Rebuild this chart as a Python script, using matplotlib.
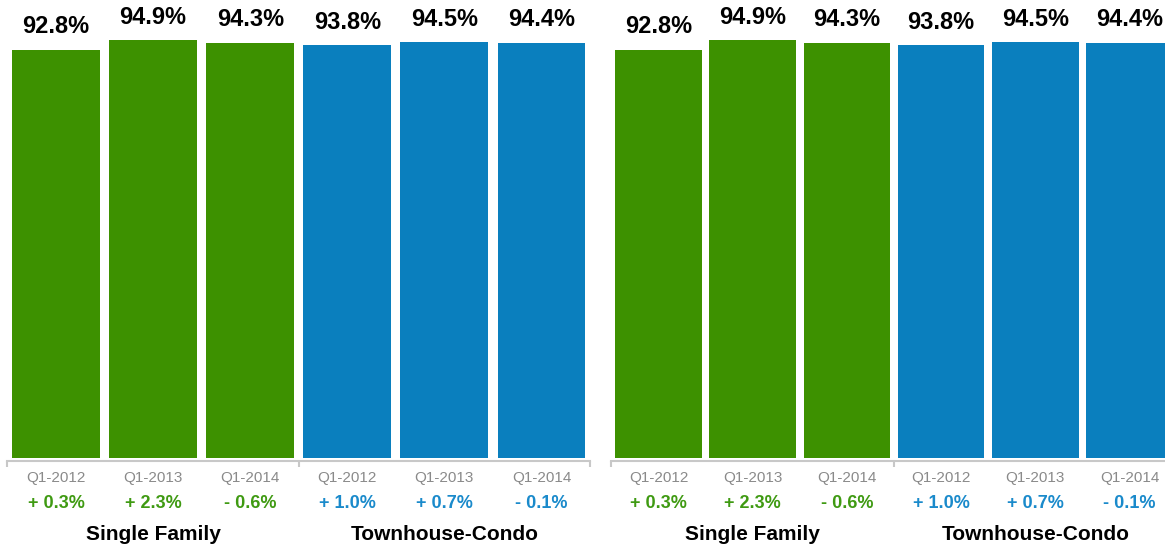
import matplotlib.pyplot as plt

plt.rcParams['font.family'] = ['Liberation Sans', 'DejaVu Sans']

# data
quarters = ["Q1-2012", "Q1-2013", "Q1-2014"]
groups = ["Single Family", "Townhouse-Condo"]
single_family = [92.8, 94.9, 94.3]
townhouse = [93.8, 94.5, 94.4]
sf_change = [0.3, 2.3, -0.6]
th_change = [1.0, 0.7, -0.1]

GREEN = '#3d9100'
BLUE = '#0a7fbe'
GREEN_TXT = '#3f9a12'
BLUE_TXT = '#1a8acb'
GRAY = '#c8c8c8'


def fmt_change(v):
    sign = "+" if v >= 0 else "-"
    return "%s %.1f%%" % (sign, abs(v))


def draw_panel(ax, bar_width):
    values = single_family + townhouse
    changes = sf_change + th_change
    colors = [GREEN] * 3 + [BLUE] * 3
    txt_colors = [GREEN_TXT] * 3 + [BLUE_TXT] * 3
    labels = quarters + quarters
    xs = list(range(len(values)))

    ax.bar(xs, values, width=bar_width, color=colors)
    ax.set_xlim(-0.5, 5.5)
    ax.set_ylim(0, 100)

    # value labels above the bars
    for x, v in zip(xs, values):
        ax.annotate("%.1f%%" % v, (x, v), xytext=(0, 12), textcoords='offset points',
                    ha='center', va='baseline', fontsize=17, fontweight='bold', color='black')

    # quarter, change and group labels under the axis
    tr = ax.get_xaxis_transform()
    for x, lab, ch, c in zip(xs, labels, changes, txt_colors):
        ax.text(x, -0.0545, lab, transform=tr, ha='center', va='baseline',
                fontsize=11, color='#8a8a8a')
        ax.text(x, -0.1136, fmt_change(ch), transform=tr, ha='center', va='baseline',
                fontsize=13, fontweight='bold', color=c)
    for i, g in enumerate(groups):
        ax.text(1 + 3 * i, -0.186, g, transform=tr, ha='center', va='baseline',
                fontsize=15, fontweight='bold', color='black')

    for s in ['top', 'right', 'left']:
        ax.spines[s].set_visible(False)
    ax.spines['bottom'].set_color(GRAY)
    ax.spines['bottom'].set_linewidth(1.5)
    ax.spines['bottom'].set_position(('outward', 2.2))
    ax.set_yticks([])
    ax.set_xticks([-0.5, 2.5, 5.5])
    ax.set_xticklabels([])
    ax.tick_params(axis='x', length=4.5, width=1.5, color=GRAY, direction='out')


fig = plt.figure(figsize=(11.65, 5.48), dpi=100)
W, H = 1165.0, 548.0
bottom = (H - 458) / H
height = 440 / H

ax1 = fig.add_axes([7.45 / W, bottom, 582.6 / W, height])
draw_panel(ax1, 0.906)

ax2 = fig.add_axes([611.4 / W, bottom, 565.2 / W, height])
draw_panel(ax2, 0.92)

fig.savefig("out.png", dpi=100)
